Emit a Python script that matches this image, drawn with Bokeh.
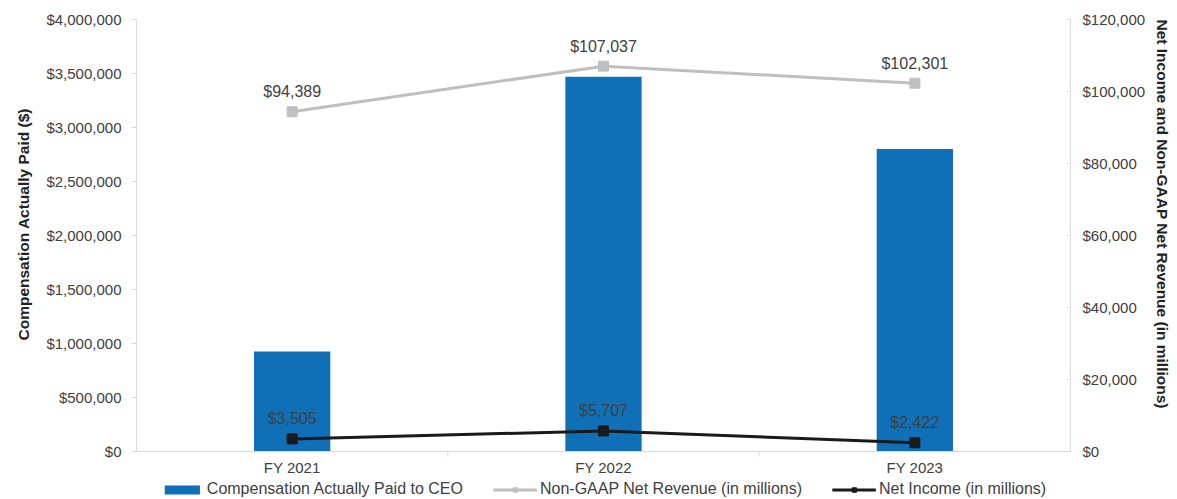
from bokeh.plotting import figure
from bokeh.models import (FactorRange, Range1d, LinearAxis, Legend, LegendItem, Span, Title,
                          NumeralTickFormatter, FixedTicker, ColumnDataSource)
from bokeh.embed import file_html
from bokeh.resources import INLINE
from bokeh.core.properties import value

# ---- data ----
years = ["FY 2021", "FY 2022", "FY 2023"]
cap_values = [926000, 3470000, 2800000]
revenue = [94389, 107037, 102301]
net_income = [3505, 5707, 2422]
rev_labels = ["$94,389", "$107,037", "$102,301"]
ni_labels = ["$3,505", "$5,707", "$2,422"]
left_ticks = [0, 500000, 1000000, 1500000, 2000000, 2500000, 3000000, 3500000, 4000000]
right_ticks = [0, 20000, 40000, 60000, 80000, 100000, 120000]
left_title = "Compensation Actually Paid ($)"
right_title = "Net Income and Non-GAAP Net Revenue (in millions)"

FONT = "Liberation Sans"
TXT = "#404040"
AXC = "#d9d9d9"
BLUE = "#0f70b7"
GRAY = "#bfbfbf"
BLACK = "#1a1a1a"

# layout: axis area 432px tall, plus 48px below the zero line for labels + legend
H_AXIS, H_BELOW = 432, 48
LMAX, RMAX = left_ticks[-1], right_ticks[-1]
lpad = LMAX * H_BELOW / H_AXIS
rpad = RMAX * H_BELOW / H_AXIS
tick_len = LMAX * 5 / H_AXIS

src = ColumnDataSource(dict(year=years, cap=cap_values, rev=revenue, ni=net_income,
                            rev_lab=rev_labels, ni_lab=ni_labels, zero=[0] * len(years)))

p = figure(x_range=FactorRange(*years), y_range=Range1d(-lpad, LMAX),
           width=1177, height=499, output_backend="svg", toolbar_location=None,
           min_border_left=133, min_border_right=104, min_border_top=19, min_border_bottom=0)
p.extra_y_ranges = {"right": Range1d(-rpad, RMAX)}
p.grid.visible = False
p.outline_line_color = None
p.background_fill_color = "white"
p.border_fill_color = "white"
p.xaxis.visible = False

# category axis line and boundary ticks
p.add_layout(Span(location=0, dimension="width", line_color=AXC, line_width=1))
bounds_x = list(range(1, len(years)))
p.segment(x0=bounds_x, x1=bounds_x, y0=[0] * len(bounds_x), y1=[-tick_len] * len(bounds_x),
          line_color=AXC, line_width=1)

bars = p.vbar(x="year", top="cap", width=0.245, source=src, fill_color=BLUE, line_color=None)
rev_line = p.line(x="year", y="rev", source=src, y_range_name="right", line_color=GRAY, line_width=3)
rev_pts = p.scatter(x="year", y="rev", source=src, y_range_name="right", marker="square",
                    size=10, fill_color=GRAY, line_color=GRAY)
ni_line = p.line(x="year", y="ni", source=src, y_range_name="right", line_color=BLACK, line_width=3)
ni_pts = p.scatter(x="year", y="ni", source=src, y_range_name="right", marker="square",
                   size=10, fill_color=BLACK, line_color=BLACK)

for col, ycol in (("rev_lab", "rev"), ("ni_lab", "ni")):
    p.text(x="year", y=ycol, text=col, source=src, y_range_name="right",
           text_align="center", text_baseline="middle", y_offset=-20,
           text_font=value(FONT), text_font_size="16px", text_color=TXT)

# category labels under the zero line
p.text(x="year", y="zero", text="year", source=src, text_align="center",
       text_baseline="middle", y_offset=16, text_font=value(FONT),
       text_font_size="15px", text_color=TXT)

# left axis
ya = p.yaxis[0]
ya.bounds = (0, LMAX)
ya.ticker = FixedTicker(ticks=left_ticks)
ya.formatter = NumeralTickFormatter(format="$0,0")
ya.major_label_text_font = FONT
ya.major_label_text_font_size = "15px"
ya.major_label_text_color = TXT
ya.major_label_standoff = 10
ya.axis_line_color = AXC
ya.major_tick_line_color = AXC
ya.major_tick_out = 5
ya.major_tick_in = 0
ya.minor_tick_line_color = None

# right axis
ra = LinearAxis(y_range_name="right", ticker=FixedTicker(ticks=right_ticks),
                formatter=NumeralTickFormatter(format="$0,0"), bounds=(0, RMAX))
ra.major_label_text_font = FONT
ra.major_label_text_font_size = "15px"
ra.major_label_text_color = TXT
ra.major_label_standoff = 12
ra.axis_line_color = AXC
ra.major_tick_line_color = AXC
ra.major_tick_in = 3
ra.major_tick_out = 0
ra.minor_tick_line_color = None
p.add_layout(ra, "right")

# axis titles as side-panel titles, positioned along the value axis
lt = Title(text=left_title, align="left", offset=159, standoff=24, text_font=FONT,
           text_font_style="bold", text_font_size="15.5px", text_color="#222222")
p.add_layout(lt, "left")
rt = Title(text=right_title, align="left", offset=0, text_font=FONT,
           text_font_style="bold", text_font_size="15.5px", text_color="#222222")
p.add_layout(rt, "right")

legend = Legend(items=[
    LegendItem(label="Compensation Actually Paid to CEO", renderers=[bars]),
    LegendItem(label="Non-GAAP Net Revenue (in millions)", renderers=[rev_line, rev_pts]),
    LegendItem(label="Net Income (in millions)", renderers=[ni_line, ni_pts]),
], orientation="horizontal", location="bottom_center")
legend.label_text_font = FONT
legend.label_text_font_size = "16px"
legend.label_text_color = TXT
legend.glyph_width = 44
legend.glyph_height = 11
legend.label_height = 16
legend.label_standoff = 3
legend.spacing = 30
legend.padding = 0
legend.margin = 1
legend.border_line_color = None
legend.background_fill_alpha = 0
p.add_layout(legend)

open("out.html", "w").write(file_html(p, INLINE))
